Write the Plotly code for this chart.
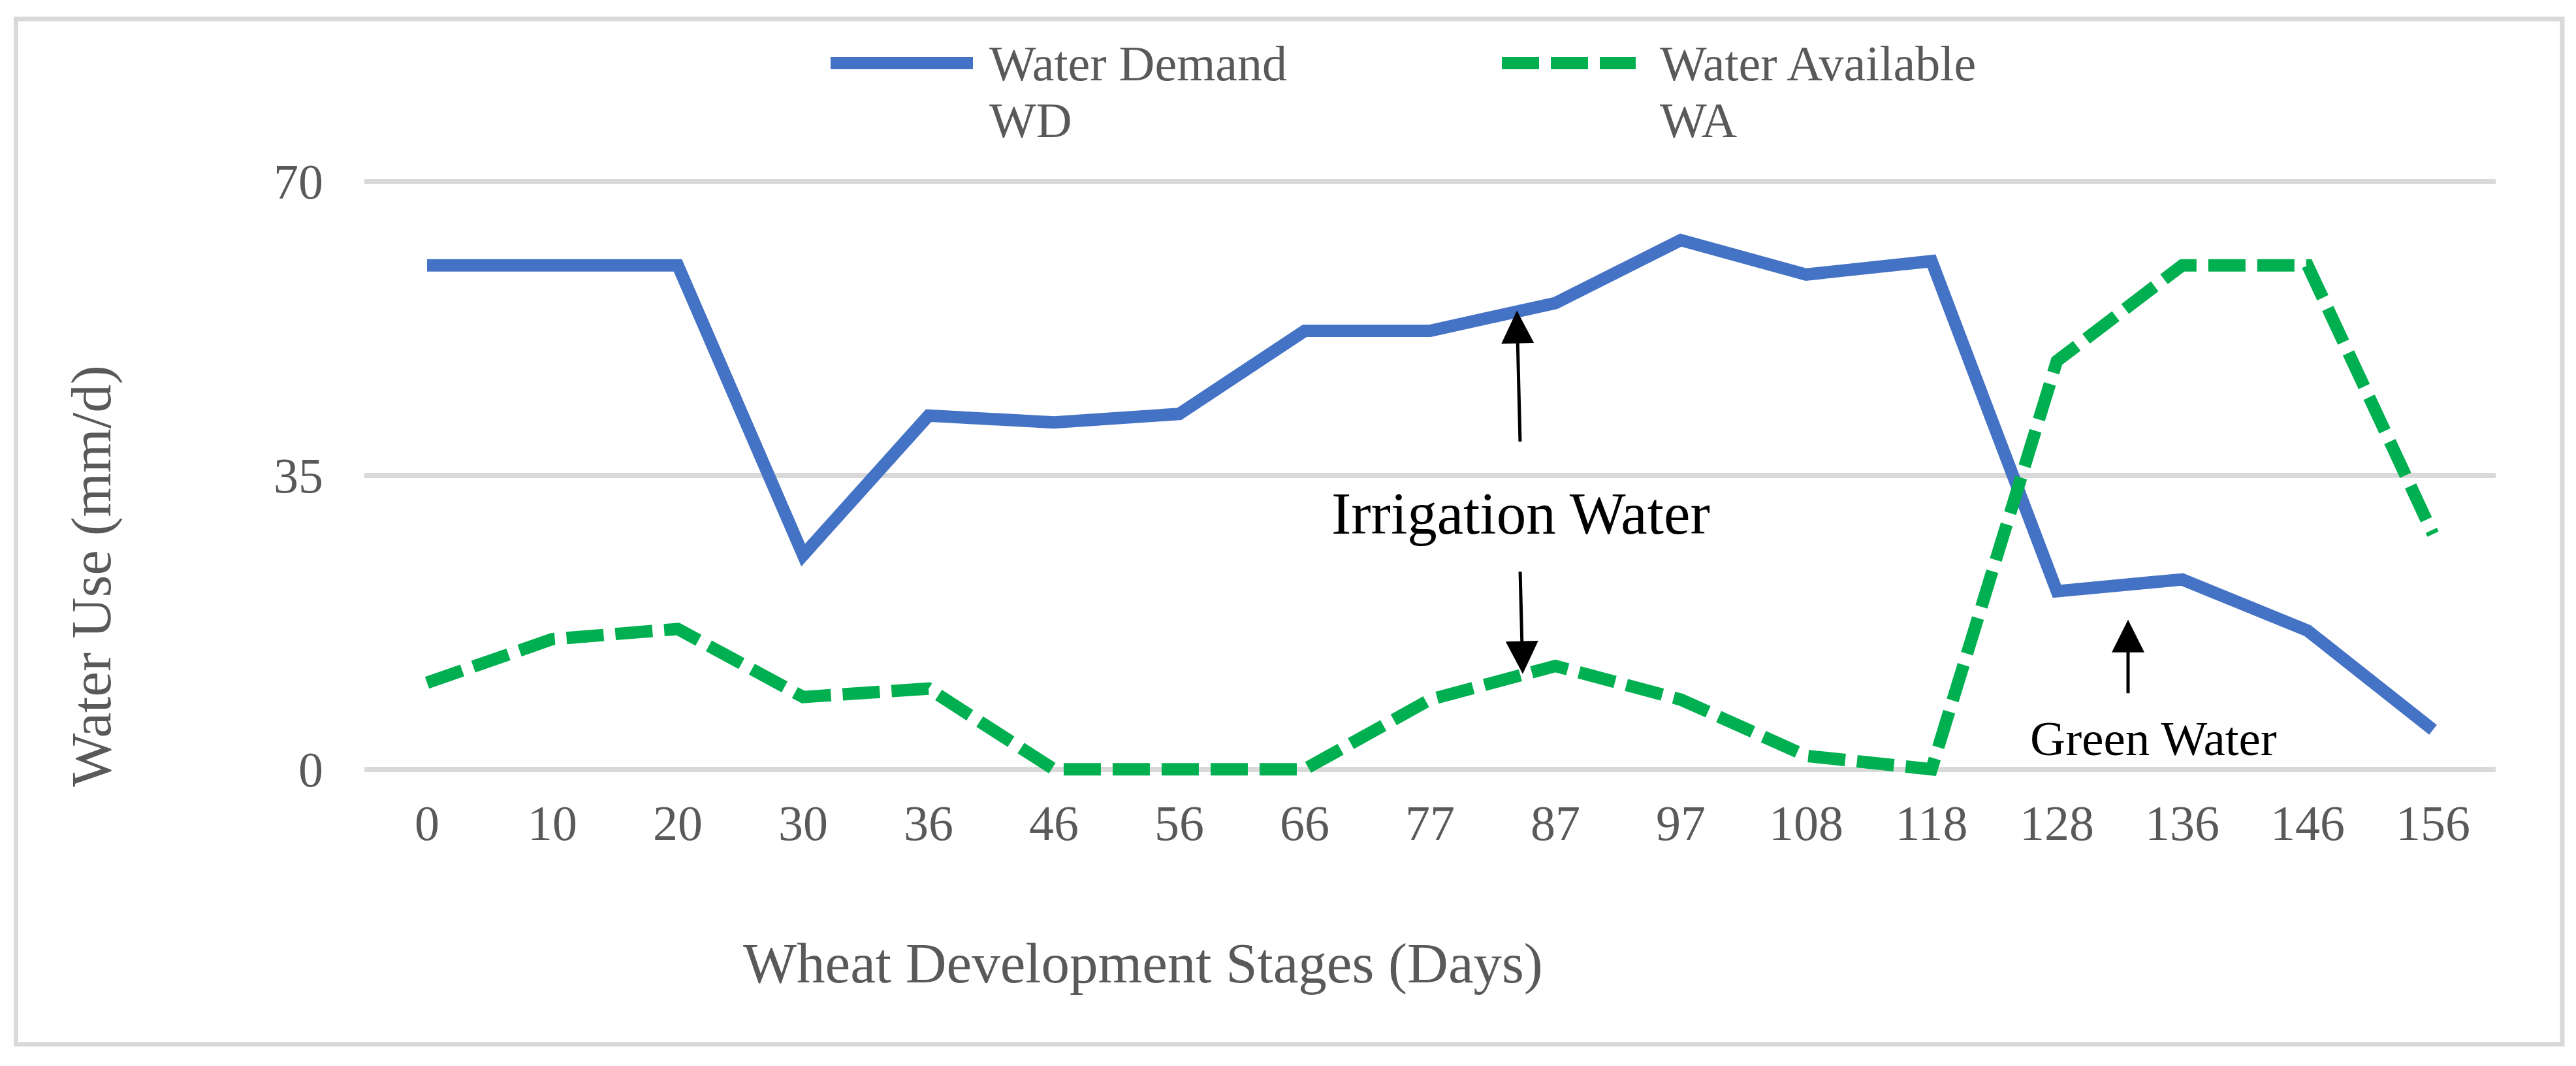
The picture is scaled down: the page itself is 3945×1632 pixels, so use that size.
import plotly.graph_objects as go

# ---- data ----
days = ["0", "10", "20", "30", "36", "46", "56", "66", "77", "87", "97",
        "108", "118", "128", "136", "146", "156"]
water_demand = [60.0, 60.0, 60.0, 25.5, 42.1, 41.3, 42.3, 52.2, 52.2, 55.5, 63.0,
                58.9, 60.5, 21.2, 22.6, 16.5, 4.7]
water_available = [10.3, 15.5, 16.7, 8.6, 9.6, 0.0, 0.0, 0.0, 8.3, 12.3, 8.3,
                   1.6, 0.0, 48.6, 60.0, 60.0, 28.0]
y_ticks = [0, 35, 70]
series_names = ["Water Demand", "Water Available"]
series_short = ["WD", "WA"]

# ---- layout geometry (pixels) ----
W, H = 3945, 1632
L, R = 558, 3822
y_lo, y_hi = -1.5, 73
px_per_unit = 900 / 70.0
B = 1178 + (0 - y_lo) * px_per_unit
T = 278 - (y_hi - 70) * px_per_unit
PW, PH = R - L, B - T

def pxx(x):
    return (x - L) / PW

def pxy(y):
    return (B - y) / PH

BLUE = "#4472C4"
GREEN = "#00B050"
GREY_TXT = "#595959"
GRID = "#D9D9D9"
FONT = "Liberation Serif"
DASH = "57px,18px"

fig = go.Figure()
fig.add_trace(go.Scatter(x=days, y=water_demand, mode="lines",
                         name=series_names[0] + " " + series_short[0],
                         line=dict(color=BLUE, width=19)))
fig.add_trace(go.Scatter(x=days, y=water_available, mode="lines",
                         name=series_names[1] + " " + series_short[1],
                         line=dict(color=GREEN, width=19, dash=DASH)))

annotations = []
shapes = []

# outer frame
shapes.append(dict(type="rect", xref="paper", yref="paper",
                   x0=pxx(24.5), x1=pxx(3924), y0=pxy(1599), y1=pxy(29.5),
                   line=dict(color=GRID, width=7), fillcolor="rgba(0,0,0,0)",
                   layer="below"))

# manual legend
legend_items = [
    (1272, 1490, 1513, BLUE, "solid"),
    (2300, 2505, 2540, GREEN, DASH),
]
for i, (x0, x1, tx, col, dash) in enumerate(legend_items):
    shapes.append(dict(type="line", xref="paper", yref="paper",
                       x0=pxx(x0), x1=pxx(x1), y0=pxy(97), y1=pxy(97),
                       line=dict(color=col, width=19, dash=dash)))
    annotations.append(dict(xref="paper", yref="paper", x=pxx(tx), y=pxy(97),
                            text=series_names[i], showarrow=False,
                            xanchor="left", yanchor="middle",
                            font=dict(family=FONT, size=76, color=GREY_TXT)))
    annotations.append(dict(xref="paper", yref="paper", x=pxx(tx), y=pxy(184),
                            text=series_short[i], showarrow=False,
                            xanchor="left", yanchor="middle",
                            font=dict(family=FONT, size=76, color=GREY_TXT)))

# axis titles
annotations.append(dict(xref="paper", yref="paper", x=pxx(1750), y=pxy(1475),
                        text="Wheat Development Stages (Days)", showarrow=False,
                        xanchor="center", yanchor="middle",
                        font=dict(family=FONT, size=87, color=GREY_TXT)))
annotations.append(dict(xref="paper", yref="paper", x=pxx(140), y=pxy(883),
                        text="Water Use (mm/d)", showarrow=False, textangle=-90,
                        xanchor="center", yanchor="middle",
                        font=dict(family=FONT, size=87, color=GREY_TXT)))

# text annotations
annotations.append(dict(xref="paper", yref="paper", x=pxx(2329), y=pxy(787),
                        text="Irrigation Water", showarrow=False,
                        xanchor="center", yanchor="middle",
                        font=dict(family=FONT, size=91, color="black")))
annotations.append(dict(xref="paper", yref="paper", x=pxx(3298), y=pxy(1131),
                        text="Green Water", showarrow=False,
                        xanchor="center", yanchor="middle",
                        font=dict(family=FONT, size=75, color="black")))

# arrows
arrows = [((2323, 476), (2328, 678)),
          ((2332, 1032), (2328, 874)),
          ((3259, 949), (3259, 1063))]
for (tx, ty), (sx, sy) in arrows:
    annotations.append(dict(xref="paper", yref="paper", x=pxx(tx), y=pxy(ty),
                            ax=sx - tx, ay=sy - ty, axref="pixel", ayref="pixel",
                            text="", showarrow=True, arrowhead=2, arrowsize=2,
                            arrowwidth=5, arrowcolor="black"))

fig.update_layout(
    width=W, height=H,
    margin=dict(l=L, r=W - R, t=T, b=H - B, pad=0),
    paper_bgcolor="white", plot_bgcolor="white",
    showlegend=False,
    shapes=shapes,
    annotations=annotations,
    xaxis=dict(type="category", range=[-0.5, len(days) - 0.5],
               showgrid=False, zeroline=False, showline=False, ticks="",
               tickfont=dict(family=FONT, size=76, color=GREY_TXT),
               ticklabelstandoff=12),
    yaxis=dict(range=[y_lo, y_hi], tickvals=y_ticks,
               showgrid=True, gridcolor=GRID, gridwidth=8,
               zeroline=False, showline=False, ticks="",
               tickfont=dict(family=FONT, size=76, color=GREY_TXT),
               ticklabelstandoff=62),
)

fig.write_html("out.html", config={"displayModeBar": False},
               post_script="document.body.style.margin='0';")
